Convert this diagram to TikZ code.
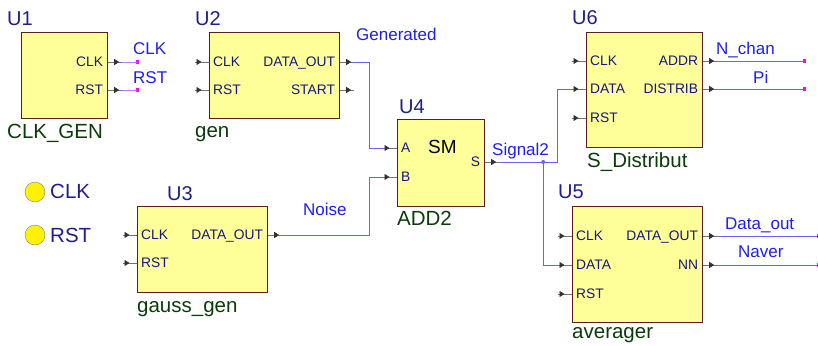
\documentclass[tikz,border=0pt]{standalone}
\usepackage{fontspec}
\setmainfont{Liberation Sans}
\usetikzlibrary{arrows.meta,decorations.markings}

\definecolor{boxfill}{RGB}{255,255,153}
\definecolor{boxline}{RGB}{90,30,30}
\definecolor{pinc}{RGB}{20,20,130}
\definecolor{refc}{RGB}{30,30,140}
\definecolor{namec}{RGB}{10,60,10}
\definecolor{netc}{RGB}{30,30,240}
\definecolor{wirec}{RGB}{100,100,255}
\definecolor{stubc}{RGB}{115,115,115}
\definecolor{tipc}{RGB}{50,50,50}
\definecolor{endc}{RGB}{255,0,255}
\definecolor{pinkw}{RGB}{190,120,255}

\newcommand\fsz[1]{\fontsize{#1}{#1}\selectfont}

% input and output pins of a block: offset/label/name
\newcommand\pinsin[2]{\foreach \off/\lbl/\pn in {#2}{%
  \coordinate (#1-\pn) at ([xshift=-14pt,yshift=-\off pt]#1.north west);
  \draw[stub,intip] (#1-\pn) -- ([yshift=-\off pt]#1.north west);
  \node[pintxt,anchor=base west] at ([xshift=4pt,yshift=-\off pt-4.5pt]#1.north west) {\lbl};}}
\newcommand\pinsout[2]{\foreach \off/\lbl/\pn in {#2}{%
  \coordinate (#1-\pn) at ([xshift=14pt,yshift=-\off pt]#1.north east);
  \draw[stub,outtip] ([yshift=-\off pt]#1.north east) -- (#1-\pn);
  \node[pintxt,anchor=base east] at ([xshift=-5pt,yshift=-\off pt-4.5pt]#1.north east) {\lbl};}}

\begin{document}
\begin{tikzpicture}[x=1pt,y=-1pt,
  blk/.style={draw=boxline,fill=boxfill,line width=1.2pt,anchor=north west,inner sep=0pt},
  stub/.style={draw=stubc,line width=0.8pt},
  intip/.style={postaction={decorate,decoration={markings,mark=at position 6.5pt with {\arrow[tipc]{Triangle[length=5pt,width=6pt]}}}}},
  outtip/.style={postaction={decorate,decoration={markings,mark=at position 11pt with {\arrow[tipc]{Triangle[length=5pt,width=6pt]}}}}},
  pintxt/.style={inner sep=0pt,text=pinc,font=\fsz{13.8}},
  refl/.style={anchor=base west,inner sep=0pt,text=refc,font=\fsz{20}},
  namel/.style={anchor=base west,inner sep=0pt,text=namec,font=\fsz{20.5}},
  netl/.style={anchor=base west,inner sep=0pt,text=netc,font=\fsz{17}},
  wire/.style={draw=wirec,line width=0.9pt},
  port/.style={circle,draw=gray,fill=yellow,minimum size=20pt,inner sep=0pt}]
\useasboundingbox (0,0) rectangle (818,345);

% blocks
\node[blk,minimum width=86,minimum height=86] (u1) at (21,32) {};
\node[blk,minimum width=130,minimum height=86] (u2) at (209,32) {};
\node[blk,minimum width=130,minimum height=86] (u3) at (137,206) {};
\node[blk,minimum width=87,minimum height=87] (u4) at (397,119) {};
\node[blk,minimum width=116,minimum height=115] (u6) at (586,32) {};
\node[blk,minimum width=130,minimum height=116] (u5) at (572,206) {};

\pinsout{u1}{30/CLK/clk,58/RST/rst}
\pinsin{u2}{30/CLK/clk,58/RST/rst}
\pinsout{u2}{30/DATA\_OUT/dout,58/START/start}
\pinsin{u3}{29/CLK/clk,57/RST/rst}
\pinsout{u3}{29/DATA\_OUT/dout}
\pinsin{u4}{29/A/a,58/B/b}
\pinsout{u4}{43/S/s}
\pinsin{u6}{29/CLK/clk,57/DATA/data,86/RST/rst}
\pinsout{u6}{29/ADDR/addr,57/DISTRIB/distrib}
\pinsin{u5}{30/CLK/clk,59/DATA/data,88/RST/rst}
\pinsout{u5}{30/DATA\_OUT/dout,59/NN/nn}
\node[font=\fsz{19},anchor=base west,inner sep=0pt] (sm) at (428,153) {SM};

% designators and names
\node[refl] (r1) at (7,26) {U1};   \node[namel] (n1) at (7,138) {CLK\_GEN};
\node[refl] (r2) at (195,26) {U2}; \node[namel] (n2) at (195,137) {gen};
\node[refl] (r3) at (167,200) {U3}; \node[namel] (n3) at (137,312) {gauss\_gen};
\node[refl] (r4) at (399,113) {U4}; \node[namel] (n4) at (397,225) {ADD2};
\node[refl] (r6) at (572,25) {U6}; \node[namel] (n6) at (587,167) {S\_Distribut};
\node[refl] (r5) at (558,198) {U5}; \node[namel] (n5) at (572,338) {averager};

% ports
\node[port] (pclk) at (35,192) {};
\node[port] (prst) at (35,235) {};
\node[refl,font=\fsz{20.5}] (tclk) at (50,198) {CLK};
\node[refl,font=\fsz{20.5}] (trst) at (50,242) {RST};

% nets
\draw[wire] (u2-dout) -- ++(15,0) |- (u4-a);
\draw[wire] (u3-dout) -- ++(87,0) |- (u4-b);
\draw[wire] (u4-s) -- ++(58,0) |- (u6-data);
\coordinate (j) at ([xshift=44pt]u4-s);
\draw[wire] (j) |- (u5-data);
\fill[wirec] (j) circle (2);

\foreach \b/\p/\len in {u1/clk/15,u1/rst/15,u6/addr/87,u6/distrib/87,u5/dout/101,u5/nn/101}{
  \coordinate (\b-\p-end) at ([xshift=\len pt]\b-\p);
  \draw[wire] (\b-\p) -- (\b-\p-end);
  \fill[endc] (\b-\p-end) +(-1.6,-1.6) rectangle +(1.6,1.6);}
\draw[pinkw,line width=0.9pt] (u1-clk) -- (u1-clk-end);
\draw[pinkw,line width=0.9pt] (u1-rst) -- (u1-rst-end);

\node[netl] (lclk) at (133,55) {CLK};
\node[netl] (lrst) at (133,83) {RST};
\node[netl] (lgen) at (356,41) {Generated};
\node[netl] (lnoise) at (303,215) {Noise};
\node[netl] (lsig) at (492,155) {Signal2};
\node[netl] (lnch) at (716,55) {N\_chan};
\node[netl] (lpi) at (753,83) {Pi};
\node[netl] (ldout) at (725,229) {Data\_out};
\node[netl] (lnav) at (738,257) {Naver};
\end{tikzpicture}
\end{document}
